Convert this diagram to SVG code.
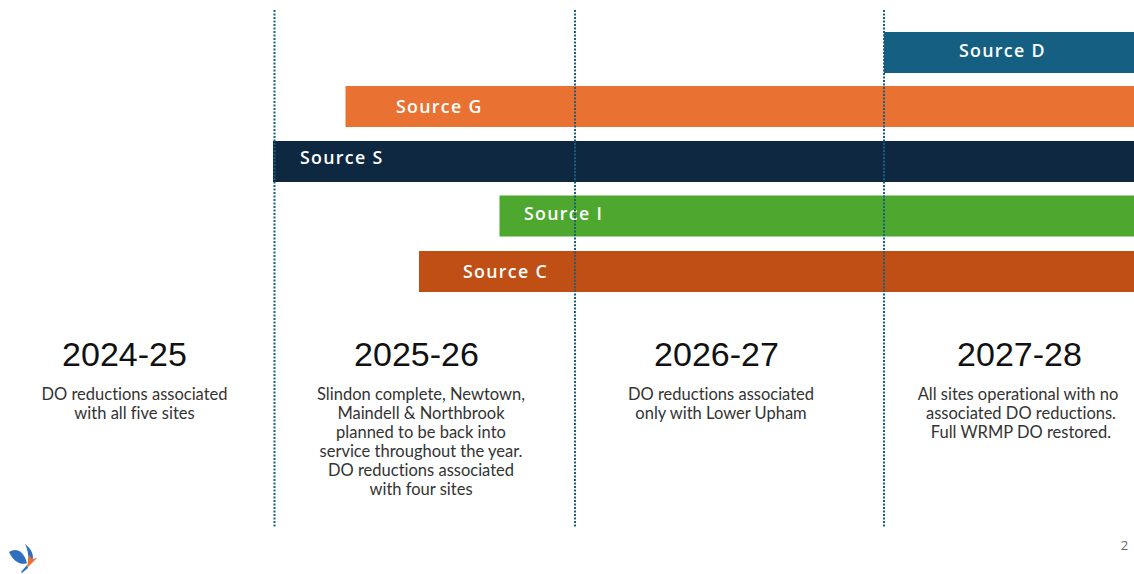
<svg xmlns="http://www.w3.org/2000/svg" width="1134" height="574" viewBox="0 0 1134 574">
<style>
.bar{font:600 17.8px "Open Sans",sans-serif;fill:#fff;letter-spacing:1.3px}
.yr{font:34px "Liberation Sans",sans-serif;fill:#111;text-anchor:middle}
.d{font:16.5px "Lato",sans-serif;fill:#333;text-anchor:middle;font-variant-ligatures:none}
.g{stroke:#156082;stroke-width:2;stroke-dasharray:2 1.5;fill:none}
</style>
<rect width="1134" height="574" fill="#fff"/>
<g id="source-d"><rect x="884" y="32" width="250" height="41" fill="#156082"/><text class="bar" x="959" y="57">Source D</text></g>
<g id="source-g"><rect x="345.500" y="86" width="788.500" height="41" fill="#E97132"/><text class="bar" x="396" y="113">Source G</text></g>
<g id="source-s"><rect x="273" y="141" width="861" height="41" fill="#0E2841"/><text class="bar" x="300" y="164">Source S</text></g>
<g id="source-i"><rect x="499.500" y="195.500" width="634.500" height="41" fill="#4EA72E"/><text class="bar" x="524" y="220">Source I</text></g>
<g id="source-c"><rect x="419" y="251" width="715" height="41" fill="#C04F15"/><text class="bar" x="463" y="277.500">Source C</text></g>
<g id="connectors"><path class="g" d="M274.500 10V527"/><path class="g" d="M575 10V527"/><path class="g" d="M884 10V527"/></g>
<g id="y2024"><text class="yr" x="124.500" y="366">2024-25</text><text class="d" x="134.500" y="400">DO reductions associated</text><text class="d" x="134.500" y="419">with all five sites</text></g>
<g id="y2025"><text class="yr" x="416.500" y="366">2025-26</text><text class="d" x="421" y="400">Slindon complete, Newtown,</text><text class="d" x="421" y="419">Maindell &amp; Northbrook</text><text class="d" x="421" y="438">planned to be back into</text><text class="d" x="421" y="457">service throughout the year.</text><text class="d" x="421" y="476">DO reductions associated</text><text class="d" x="421" y="495">with four sites</text></g>
<g id="y2026"><text class="yr" x="716.500" y="366">2026-27</text><text class="d" x="721" y="400">DO reductions associated</text><text class="d" x="721" y="419">only with Lower Upham</text></g>
<g id="y2027"><text class="yr" x="1019.500" y="366">2027-28</text><text class="d" x="1018" y="400">All sites operational with no</text><text class="d" x="1021" y="419">associated DO reductions.</text><text class="d" x="1021" y="438">Full WRMP DO restored.</text></g>
<g id="logo"><path d="M9 552C15 548 23 549 27 563C21 566 13 561 9 552Z" fill="#2F6FBF"/><path d="M25 544C30 548 33 552 33 558L28 566C29 557 28 550 25 544Z" fill="#2F6FBF"/><path d="M29 555L32 559L37 558L27 568Z" fill="#E97132"/><path d="M27 565L28 568L22 573L21 572Z" fill="#2F6FBF"/></g>
<text x="1124.500" y="550" font-family="Open Sans,sans-serif" font-size="13" fill="#666" text-anchor="middle">2</text>
</svg>
